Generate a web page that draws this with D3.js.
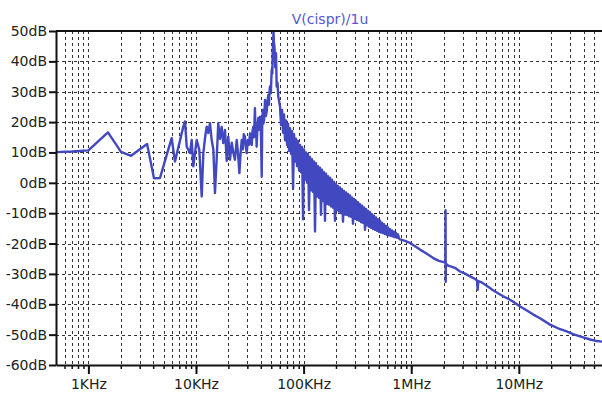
<!DOCTYPE html>
<html>
<head>
<meta charset="utf-8">
<script src="https://cdn.jsdelivr.net/npm/d3@7"></script>
<style>
  body { margin: 0; background: #fff; }
  svg { display: block; }
</style>
</head>
<body>
<svg id="chart" width="602" height="394"></svg>
<script>
// Trace name shown above the plot
const traceTitle = "V(cispr)/1u";

// Axis ticks
const dbTicks = [50, 40, 30, 20, 10, 0, -10, -20, -30, -40, -50, -60];
const decadeTicks = [1e3, 1e4, 1e5, 1e6, 1e7];
const decadeLabels = ["1KHz", "10KHz", "100KHz", "1MHz", "10MHz"];

// Spectrum samples as [frequency in kHz, level in dB]
// low-frequency part up to the rising edge of the main peak
const lowBand = [
  [0.5, 10.1], [0.7, 10.3], [1.0, 10.7], [1.52, 16.6], [2.01, 10.2], [2.49, 8.9],
  [3.51, 12.8], [4.07, 1.5], [4.63, 1.6], [5.94, 14.7], [6.38, 7.0], [7.62, 18.5],
  [7.90, 20.2], [8.20, 11.9], [8.79, 9.8], [9.12, 14.1], [9.44, 5.4], [10.15, 14.1],
  [10.73, 10.9], [11.3, -4.5], [11.7, 9.8], [12.2, 15.5], [12.57, 18.5], [13.0, 16.4],
  [13.49, 19.6], [14.0, 14.0], [14.5, 10.9], [15.0, -3.4], [15.6, 8.6], [16.1, 19.6],
  [16.7, 14.5], [17.3, 18.4], [17.9, 13.1], [18.6, 17.4], [19.3, 7.2], [19.95, 15.2],
  [20.7, 7.6], [21.5, 13.2], [22.2, 10.0], [23.0, 7.6], [23.9, 14.1], [24.6, 9.5],
  [25.3, 3.2], [26.0, 10.0], [26.6, 14.1], [27.2, 11.0], [27.8, 16.0], [28.5, 15.2],
  [29.0, 12.0], [29.6, 9.8], [30.3, 14.0], [31.0, 12.5], [31.8, 16.3], [32.4, 13.0],
  [33.0, 12.5], [33.5, 17.0], [34.1, 18.5], [34.6, 15.0], [35.3, 24.6], [35.7, 17.0],
  [36.1, 19.1], [36.6, 11.9], [37.2, 18.0], [37.9, 21.4], [38.5, 17.5], [39.3, 21.8],
  [40.0, 19.0], [40.8, 2.1], [41.2, 18.0], [41.7, 24.0], [42.3, 19.5], [42.9, 20.7],
  [43.4, 24.0], [43.8, 27.3], [44.6, 22.0], [45.4, 23.4], [46.2, 27.0], [47.0, 28.9],
  [47.6, 25.7], [48.2, 30.0], [48.7, 31.7]
];

// main peak around 52 kHz
const peakBand = [
  [49.6, 29.5], [50.5, 37.2], [51.2, 36.0], [51.6, 42.7], [52.2, 47.0], [52.5, 50.0],
  [52.9, 46.5], [53.7, 44.4], [54.5, 38.0], [55.4, 42.7], [56.2, 31.7], [57.2, 33.0],
  [58.2, 28.4]
];

// dense noisy band on the falling side
const noiseBand = [
  [60.4, 25], [61.7, 19], [63.0, 24], [64.4, 16.5], [65.8, 22.5], [67.2, 14],
  [68.7, 20.5], [70.2, 12.5], [71.7, 19.5], [73.3, 10.5], [74.8, 18], [76.5, 9.5],
  [78.1, 17], [79.8, -2], [81.5, 16], [83.3, 7], [85.0, 14.5], [86.9, 5.5],
  [88.7, 13.8], [90.7, 4], [92.6, 12.5], [94.6, 3.5], [96.7, 11.8], [98.8, -12],
  [100.9, 11], [103.1, 1], [105.3, 10], [107.6, 0], [109.9, 9.5], [112.3, -9],
  [114.7, 8.5], [117.2, -2.5], [119.7, 7.8], [122.3, -3], [124.9, 7], [127.6, -16],
  [130.4, 6.5], [133.2, -4.5], [136.1, 5.5], [139.0, -5], [142.0, 5], [145.1, -10.5],
  [148.2, 4.3], [151.4, -6], [154.7, 3.5], [158.0, -12.5], [161.5, 3], [165.0, -7],
  [168.5, 2.2], [172.2, -7.2], [175.9, 1.7], [179.7, -7.8], [183.6, 1], [187.6, -8.2],
  [191.6, 0.3], [195.8, -12.5], [200.0, -0.3], [204.3, -9], [208.7, -1], [213.2, -9.5],
  [217.8, -1.5], [222.5, -10], [227.4, -2.1], [232.3, -12.8], [237.3, -2.7], [242.4, -10.5],
  [247.7, -3.2], [253.0, -10.6], [258.5, -3.7], [264.1, -11], [269.8, -4.2], [275.6, -11.2],
  [281.6, -4.8], [287.7, -13.5], [293.9, -5.3], [300.3, -11.8], [306.8, -5.9], [313.4, -12.2],
  [320.2, -6.4], [327.1, -12.5], [334.2, -7], [341.4, -13], [348.8, -7.5], [356.3, -13.2],
  [364.0, -8.1], [371.9, -15.5], [380.0, -8.6], [388.1, -14], [396.6, -9.2], [405.0, -14.5],
  [413.9, -9.7], [422.8, -14.8], [432.0, -10.3], [441.3, -15.2], [450.9, -10.8], [460.6, -15.5],
  [470.6, -11.4], [480.7, -15.8], [491.2, -12], [501.7, -16.2], [512.7, -12.5], [523.7, -16.4],
  [535.1, -13.1], [546.6, -16.6], [558.5, -13.6], [570.5, -16.9], [582.9, -14.2], [595.5, -17.1],
  [608.4, -14.7], [621.5, -17.3], [635.0, -15.3], [648.7, -17.5], [662.8, -15.7], [677.0, -17.7],
  [691.7, -16.1], [706.6, -17.9], [722.0, -16.5], [737.5, -18.1], [753.6, -17], [769.7, -18.3],
  [786.5, -18.6]
];

// smooth roll-off with the 2 MHz spur
const tailBand = [
  [875, -19.1], [975, -19.8], [1084, -20.9], [1208, -22.0], [1374, -23.2], [1604, -24.8],
  [1811, -25.7], [2075, -26.3], [2085, -9.0], [2092, -32.6], [2100, -26.5], [2150, -26.9],
  [2208, -27.3], [2547, -28.0], [2844, -29.2], [3164, -29.9], [3524, -30.8], [3921, -31.7],
  [4100, -32.2], [4150, -35.2], [4200, -32.4], [4454, -32.7], [5036, -33.9], [5758, -35.4],
  [6698, -36.8], [7452, -37.7], [8297, -38.5], [9228, -39.6], [10280, -40.7], [11670, -41.9],
  [13650, -43.4], [15740, -44.6], [19500, -46.7], [23120, -47.9], [27860, -48.9], [31900, -49.8],
  [37070, -50.6], [41210, -51.1], [45920, -51.6], [51050, -52.0], [59290, -52.3]
];

const spectrum = [...lowBand, ...peakBand, ...noiseBand, ...tailBand]
  .map(([kHz, db]) => ({ f: kHz * 1000, db }));

const plotLeft = 56, plotRight = 602, plotTop = 31, plotBottom = 365;
const svg = d3.select("#chart");

const x = d3.scaleLog().domain([500, 59.29e6]).range([plotLeft, plotRight]);
const y = d3.scaleLinear().domain([-60, 50]).range([plotBottom, plotTop]);

// minor and major grid frequencies: 1..9 times each decade
const gridFreqs = [];
for (const dec of [1e2, 1e3, 1e4, 1e5, 1e6, 1e7]) {
  for (let m = 1; m <= 9; m++) {
    const f = m * dec;
    if (f > 500 && f <= 60e6) gridFreqs.push(f);
  }
}

const grid = svg.append("g")
  .attr("stroke", "#333")
  .attr("stroke-width", 1)
  .attr("stroke-dasharray", "3,3");

grid.selectAll("line.v").data(gridFreqs).join("line")
  .attr("class", "v")
  .attr("x1", d => Math.round(x(d)) + 0.5).attr("x2", d => Math.round(x(d)) + 0.5)
  .attr("y1", plotTop).attr("y2", plotBottom);

grid.selectAll("line.h").data(dbTicks.filter(d => d > -60 && d < 50)).join("line")
  .attr("class", "h")
  .attr("x1", plotLeft).attr("x2", plotRight)
  .attr("y1", d => Math.round(y(d)) + 0.5).attr("y2", d => Math.round(y(d)) + 0.5);

// trace
svg.append("clipPath").attr("id", "plot-clip")
  .append("rect").attr("x", plotLeft).attr("y", plotTop - 1)
  .attr("width", plotRight - plotLeft).attr("height", plotBottom - plotTop + 1);

const line = d3.line().x(d => x(d.f)).y(d => y(d.db));
svg.append("path")
  .datum(spectrum)
  .attr("clip-path", "url(#plot-clip)")
  .attr("fill", "none")
  .attr("stroke", "#4248c0")
  .attr("stroke-width", 2.4)
  .attr("stroke-linejoin", "round")
  .attr("d", line);

// frame: top border
svg.append("line")
  .attr("x1", plotLeft).attr("x2", plotRight).attr("y1", plotTop).attr("y2", plotTop)
  .attr("stroke", "#111").attr("stroke-width", 2);

const fontFamily = "'DejaVu Sans', Verdana, sans-serif";

// left axis
const yAxis = svg.append("g")
  .attr("transform", `translate(${plotLeft},0)`)
  .call(d3.axisLeft(y).tickValues(dbTicks).tickSize(7).tickSizeOuter(0).tickPadding(2)
    .tickFormat(d => d + "dB"));
yAxis.select(".domain").attr("stroke", "#111").attr("stroke-width", 2);
yAxis.selectAll(".tick line").attr("stroke", "#111").attr("stroke-width", 2);
yAxis.selectAll("text").attr("font-family", fontFamily).attr("font-size", 14).attr("fill", "#222");

// bottom axis: minor ticks, then decades with labels
const xMinor = svg.append("g")
  .attr("transform", `translate(0,${plotBottom})`)
  .call(d3.axisBottom(x).tickValues(gridFreqs).tickSize(4).tickSizeOuter(0).tickFormat(""));
xMinor.select(".domain").attr("stroke", "#111").attr("stroke-width", 2);
xMinor.selectAll(".tick line").attr("stroke", "#111").attr("stroke-width", 1.5);

const xMajor = svg.append("g")
  .attr("transform", `translate(0,${plotBottom})`)
  .call(d3.axisBottom(x).tickValues(decadeTicks).tickSize(9).tickSizeOuter(0).tickPadding(5)
    .tickFormat((d, i) => decadeLabels[i]));
xMajor.select(".domain").remove();
xMajor.selectAll(".tick line").attr("stroke", "#111").attr("stroke-width", 2);
xMajor.selectAll("text").attr("font-family", fontFamily).attr("font-size", 14).attr("fill", "#222");

// title
svg.append("text")
  .attr("x", (plotLeft + plotRight) / 2 + 1).attr("y", 24)
  .attr("text-anchor", "middle")
  .attr("font-family", fontFamily).attr("font-size", 14)
  .attr("fill", "#5558d0")
  .text(traceTitle);
</script>
</body>
</html>
